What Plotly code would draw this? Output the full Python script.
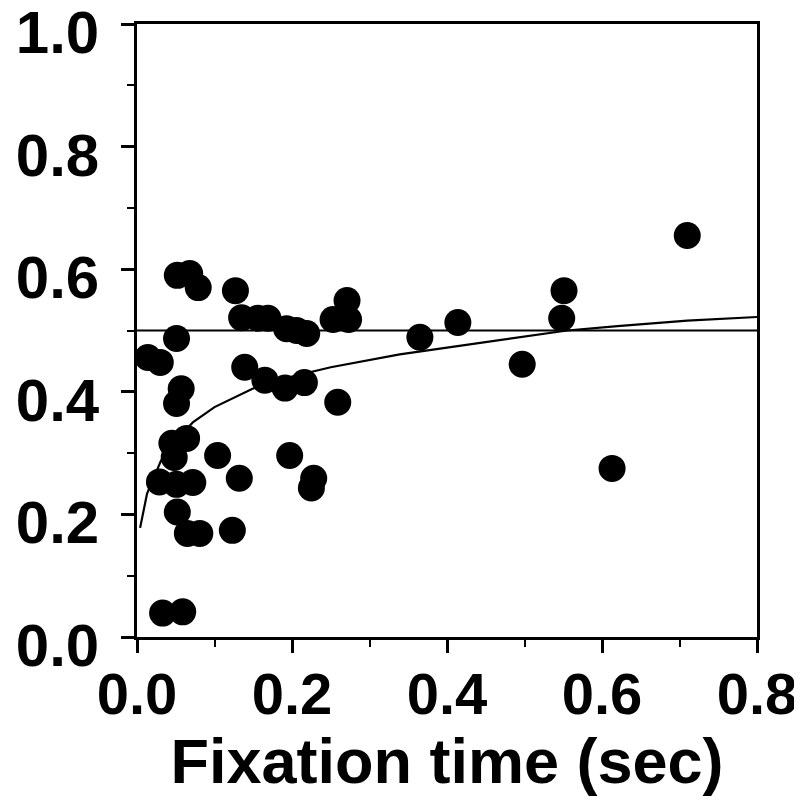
import plotly.graph_objects as go

# scatter points (fixation time in sec, proportion)
fix_x = [0.014, 0.030, 0.051, 0.052, 0.068, 0.079, 0.127, 0.135, 0.156, 0.169,
         0.193, 0.206, 0.219, 0.253, 0.271, 0.273, 0.057, 0.051, 0.139, 0.165,
         0.191, 0.216, 0.259, 0.045, 0.064, 0.048, 0.029, 0.051, 0.072, 0.104,
         0.132, 0.052, 0.065, 0.081, 0.123, 0.197, 0.228, 0.225, 0.033, 0.059,
         0.710, 0.551, 0.548, 0.414, 0.365, 0.497, 0.613]
fix_y = [0.456, 0.448, 0.487, 0.590, 0.593, 0.570, 0.565, 0.521, 0.520, 0.520,
         0.503, 0.500, 0.495, 0.518, 0.549, 0.518, 0.405, 0.381, 0.440, 0.419,
         0.406, 0.415, 0.383, 0.316, 0.324, 0.293, 0.253, 0.249, 0.252, 0.296,
         0.259, 0.204, 0.169, 0.169, 0.174, 0.296, 0.259, 0.243, 0.039, 0.041,
         0.655, 0.565, 0.520, 0.513, 0.489, 0.445, 0.275]

# fitted curve
curve_x = [0.004, 0.013, 0.031, 0.05, 0.072, 0.10, 0.149, 0.20, 0.25, 0.339,
           0.40, 0.468, 0.555, 0.62, 0.71, 0.80]
curve_y = [0.178, 0.234, 0.288, 0.32, 0.35, 0.375, 0.405, 0.425, 0.44, 0.461,
           0.472, 0.484, 0.500, 0.507, 0.516, 0.522]

# chance level
ref_x = [0.0, 0.8]
ref_y = [0.5, 0.5]

FONT = "Arial, Liberation Sans, Helvetica, sans-serif"

fig = go.Figure()

fig.add_trace(go.Scatter(x=ref_x, y=ref_y, mode="lines",
                         line=dict(color="black", width=2), hoverinfo="skip"))
fig.add_trace(go.Scatter(x=curve_x, y=curve_y, mode="lines",
                         line=dict(color="black", width=2.2), hoverinfo="skip"))
fig.add_trace(go.Scatter(x=fix_x, y=fix_y, mode="markers", cliponaxis=False,
                         marker=dict(color="black", size=27, line=dict(width=0))))

axis_common = dict(
    showline=True, linecolor="black", linewidth=2.5, mirror=True,
    ticks="outside", tickcolor="black", tickwidth=2.5, ticklen=13,
    showgrid=False, zeroline=False, tickformat=".1f", automargin=False,
    ticklabeloverflow="allow",
)

# page body has an 8px default margin, so margins are offset to compensate
fig.update_layout(
    width=802, height=803,
    margin=dict(l=129, r=53, t=16, b=174),
    plot_bgcolor="white", paper_bgcolor="white",
    showlegend=False,
    xaxis=dict(
        range=[0, 0.8], dtick=0.2, ticklabelstandoff=-8,
        tickfont=dict(family=FONT, size=58, color="black", weight="bold"),
        minor=dict(dtick=0.1, ticks="outside", ticklen=7, tickwidth=2, tickcolor="black"),
        title=dict(text="Fixation time (sec)", standoff=5,
                   font=dict(family=FONT, size=63, color="black", weight="bold")),
        **axis_common,
    ),
    yaxis=dict(
        range=[0, 1], dtick=0.2, ticklabelstandoff=10, ticklabelshift=8,
        tickfont=dict(family=FONT, size=60, color="black", weight="bold"),
        minor=dict(dtick=0.1, ticks="outside", ticklen=7, tickwidth=2, tickcolor="black"),
        **axis_common,
    ),
)

fig.write_html("out.html")
